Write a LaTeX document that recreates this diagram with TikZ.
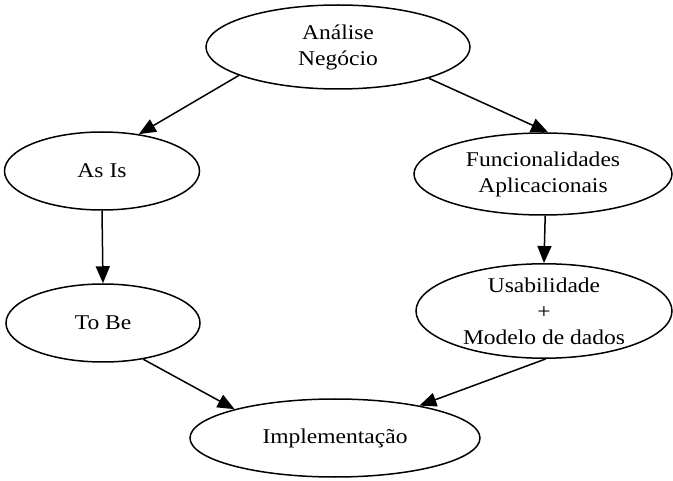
\documentclass[tikz,border=0pt]{standalone}
\usepackage{fontspec}
\setmainfont{Liberation Serif}[FakeStretch=1.12]
\usetikzlibrary{shapes.geometric,arrows.meta}
\begin{document}
\begin{tikzpicture}[x=1pt,y=-1pt,
  oval/.style={ellipse,draw,line width=1.5pt,inner sep=0pt,align=center,
    font=\fontsize{21}{26}\selectfont},
  conn/.style={line width=1.5pt,-{Triangle[length=17pt,width=14pt]}}]
\useasboundingbox (0,0) rectangle (673,481);
\node[oval,minimum width=264pt,minimum height=84pt] (an) at (338,47) {Análise\\Negócio};
\node[oval,minimum width=195pt,minimum height=78pt] (asis) at (102,171) {As Is};
\node[oval,minimum width=258pt,minimum height=82pt] (fun) at (543,174) {Funcionalidades\\Aplicacionais};
\node[oval,minimum width=194pt,minimum height=78pt] (tobe) at (103,323) {To Be};
\node[oval,minimum width=256pt,minimum height=88pt] (usa) at (544,311) {Usabilidade\\+\\Modelo de dados};
\node[oval,minimum width=290pt,minimum height=78pt] (imp) at (335,438) {Implementação};
\draw[conn] (an.196) -- (asis.45);
\draw[conn] (an.341) -- (fun.83);
\draw[conn] (asis.south) -- (tobe.north);
\draw[conn] (fun.273) -- (usa.north);
\draw[conn] (tobe.318) -- (imp.164);
\draw[conn] (usa.272) -- (imp.21);
\end{tikzpicture}
\end{document}
